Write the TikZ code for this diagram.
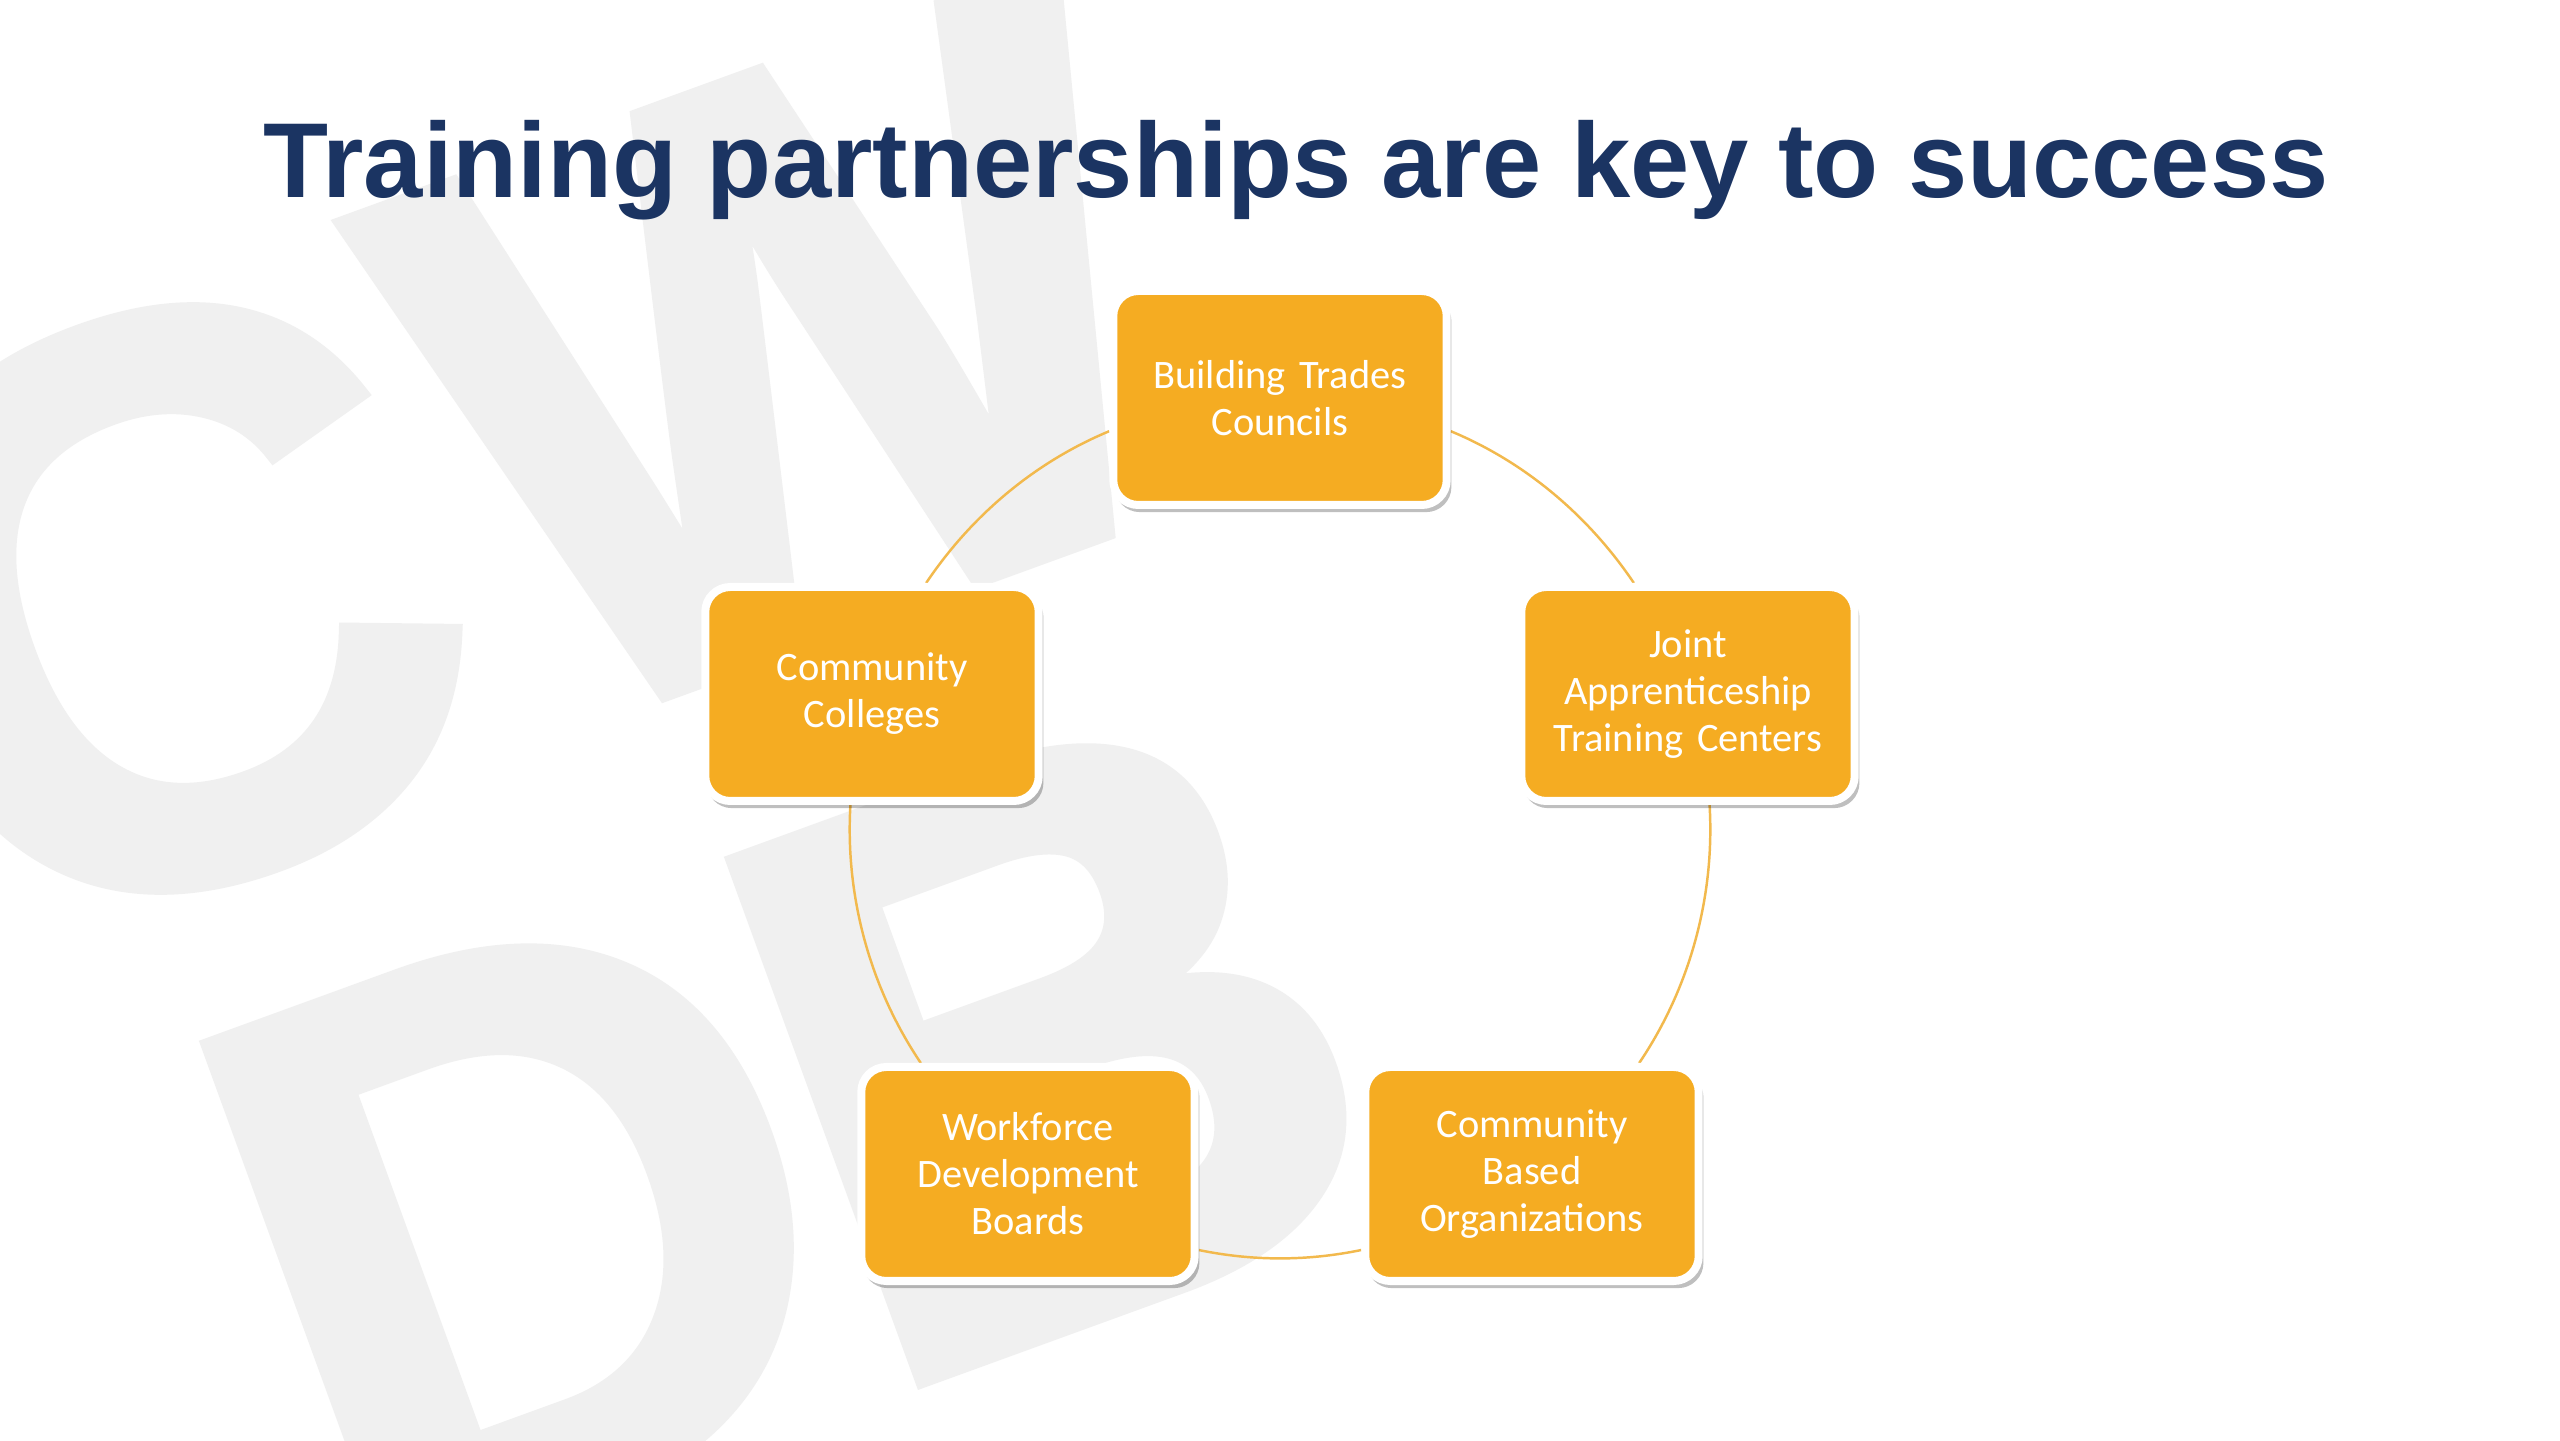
\documentclass[tikz,border=0pt]{standalone}
\usepackage{fontspec}
\setmainfont{Carlito}
\newfontfamily\headfont{Liberation Sans}
\newfontfamily\markfont[UprightFont={* Bold}, FakeBold=2]{Liberation Sans}
\usetikzlibrary{shadows,backgrounds}
\definecolor{partnerorange}{HTML}{F5AC22}
\definecolor{titlenavy}{HTML}{1B3462}
\definecolor{ringorange}{HTML}{F2B94D}
\definecolor{markgray}{HTML}{F0F0F0}
\begin{document}
\begin{tikzpicture}[
  partner/.style={rectangle, rounded corners=0.25cm, fill=partnerorange, draw=white,
    line width=0.08cm, minimum width=3.3cm, minimum height=2.14cm, text width=3.1cm,
    align=center, text=white, font=\fontsize{11.5}{13.4}\selectfont,
    drop shadow={shadow xshift=0.3mm, shadow yshift=-0.6mm, shadow scale=1.01, opacity=0.25, fill=black}},
  ring/.style={draw=ringorange, line width=0.7pt, looseness=0.87},
  wmletter/.style={text=markgray, font=\markfont\fontsize{228}{228}\selectfont,
    rotate=20, inner sep=0pt}
]
\useasboundingbox (0,0) rectangle (25.6,14.4);
\begin{pgfonlayer}{background}
\fill [white] (0,0) rectangle (25.6,14.4);
\node [wmletter] (wmc) at (1.6,8.35) {C};
\node [wmletter] (wmw) at (7.92,10.86) {W};
\node [wmletter] (wmd) at (5.25,2.16) {D};
\node [wmletter] (wmb) at (10.5,4.0) {B};
\end{pgfonlayer}
\node [font=\headfont\bfseries\fontsize{30.3}{30.3}\selectfont, text=titlenavy, anchor=base] (title) at (12.96,12.42) {Training partnerships are key to success};
\node [partner] (btc) at (12.8,10.42) {Building Trades\\Councils};
\node [partner] (jatc) at (16.88,7.46) {Joint\\Apprenticeship\\Training Centers};
\node [partner] (cbo) at (15.32,2.66) {Community\\Based\\Organizations};
\node [partner] (wdb) at (10.28,2.66) {Workforce\\Development\\Boards};
\node [partner] (cc) at (8.72,7.46) {Community\\Colleges};
\begin{pgfonlayer}{background}
\draw [ring] (btc.191) to [out=202.6, in=56.1] (cc.64);
\draw [ring] (cc.259) to [out=266.6, in=124] (wdb.134);
\draw [ring] (wdb.336) to [out=348.3, in=191.7] (cbo.204);
\draw [ring] (cbo.46) to [out=56, in=273.4] (jatc.281);
\draw [ring] (jatc.116) to [out=124, in=337.4] (btc.349);
\end{pgfonlayer}
\end{tikzpicture}
\end{document}
